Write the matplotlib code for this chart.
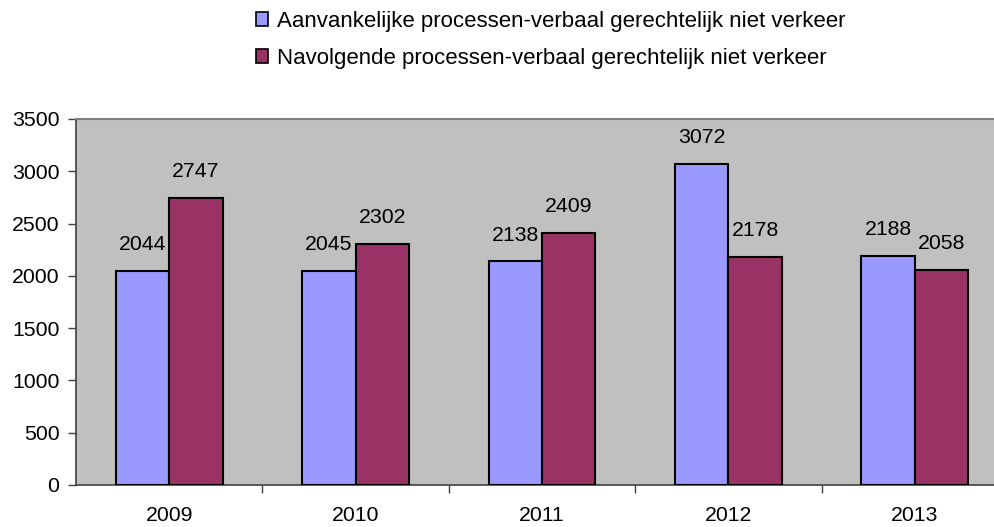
import matplotlib
matplotlib.use("Agg")
import matplotlib.pyplot as plt
import numpy as np
from matplotlib.patches import Patch

years = ["2009", "2010", "2011", "2012", "2013"]
aanvankelijke = [2044, 2045, 2138, 3072, 2188]
navolgende = [2747, 2302, 2409, 2178, 2058]
series_names = ["Aanvankelijke processen-verbaal gerechtelijk niet verkeer",
                "Navolgende processen-verbaal gerechtelijk niet verkeer"]
yticks = [0, 500, 1000, 1500, 2000, 2500, 3000, 3500]

plt.rcParams['font.family'] = ['Liberation Sans', 'DejaVu Sans']
FS = 15.3
FSL = 16.0
c1 = '#9999FF'
c2 = '#993366'

fig = plt.figure(figsize=(9.95, 5.27), dpi=100)
ax = fig.add_axes([76/995, 1-485/527, (1008-76)/995, (485-119)/527])
ax.set_facecolor('#C0C0C0')

x = np.arange(len(years))
w = 0.287
b1 = ax.bar(x - w/2, aanvankelijke, w, color=c1, edgecolor='black', linewidth=1.5, zorder=3)
b2 = ax.bar(x + w/2, navolgende, w, color=c2, edgecolor='black', linewidth=1.5, zorder=3)
for bars, vals in ((b1, aanvankelijke), (b2, navolgende)):
    for r, v in zip(bars, vals):
        ax.annotate(str(v), (r.get_x() + r.get_width()/2, v), xytext=(0, 19),
                    textcoords='offset points', ha='center', va='center', fontsize=FS, zorder=4)

ax.set_xlim(-0.5, len(years) - 0.5)
ax.set_ylim(0, 3500)
ax.set_yticks(yticks)
ax.set_yticklabels([str(t) for t in yticks], fontsize=FS)
ax.set_xticks(x)
ax.set_xticklabels(years, fontsize=FS)
ax.set_xticks(np.arange(0.5, len(years) - 0.5, 1), minor=True)
ax.tick_params(axis='x', which='major', length=0, pad=15)
ax.tick_params(axis='x', which='minor', length=6, width=1, color='#404040', direction='out')
ax.tick_params(axis='y', length=6, width=1, color='#404040', direction='out', pad=6)

for s in ('top', 'right'):
    ax.spines[s].set_color('#808080')
    ax.spines[s].set_linewidth(1.5)
for s in ('left', 'bottom'):
    ax.spines[s].set_color('#404040')
    ax.spines[s].set_linewidth(1.2)

handles = [Patch(facecolor=c1, edgecolor='black', linewidth=1.2),
           Patch(facecolor=c2, edgecolor='black', linewidth=1.2)]
fig.legend(handles, series_names, loc='upper left', bbox_to_anchor=(256/995, 1 - 11/527),
           frameon=False, fontsize=FSL, handlelength=0.55, handleheight=0.55,
           handletextpad=0.38, labelspacing=0.72, borderaxespad=0, borderpad=0)

fig.savefig('out.png', dpi=100)
